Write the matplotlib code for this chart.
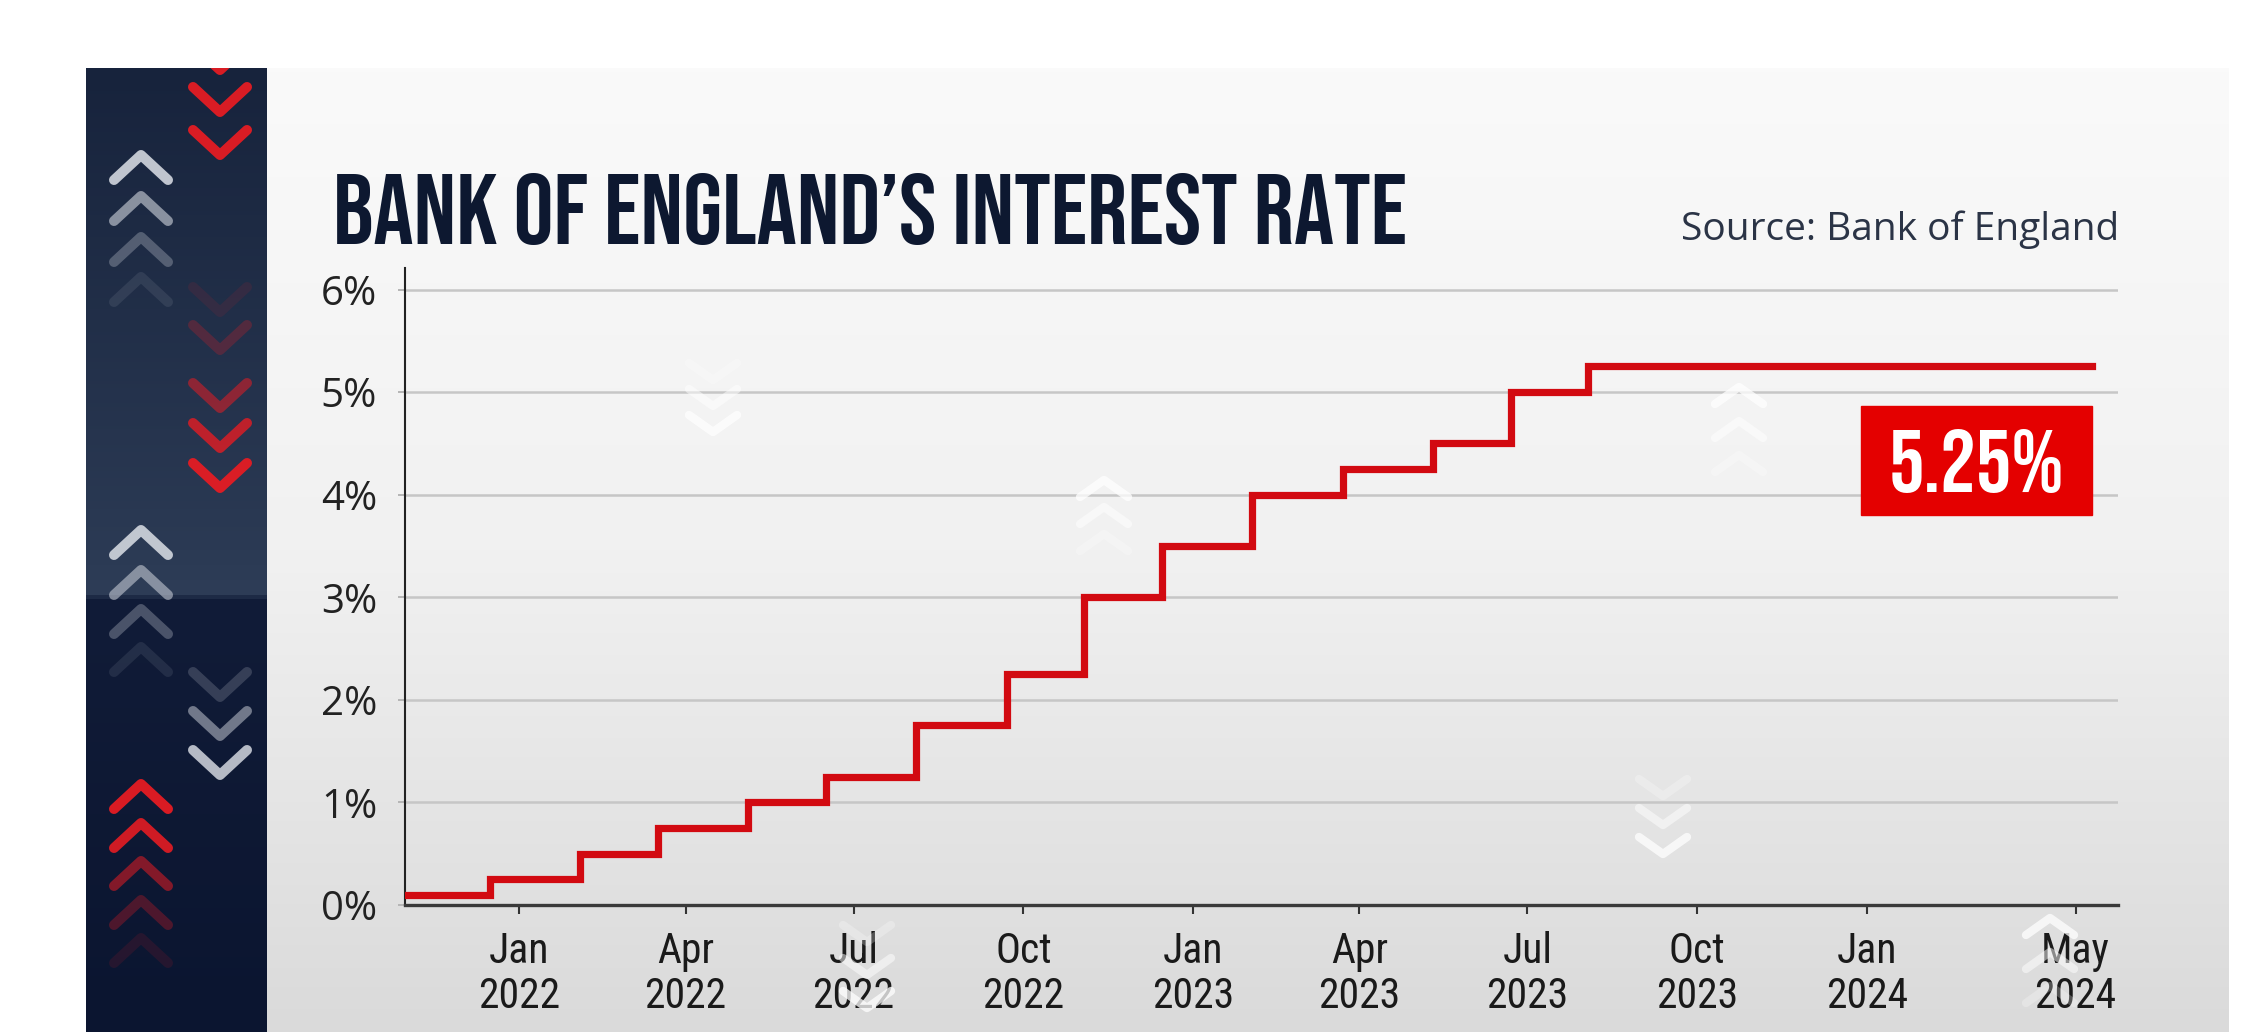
import numpy as np
import pandas as pd
import matplotlib
matplotlib.use("Agg")
import matplotlib.pyplot as plt
import matplotlib.dates as mdates
from matplotlib.colors import LinearSegmentedColormap
from matplotlib.patches import Rectangle

# Bank Rate decisions (rate in force from each date)
rate_dates = ["2021-10-31", "2021-12-16", "2022-02-03", "2022-03-17", "2022-05-05",
              "2022-06-16", "2022-08-04", "2022-09-22", "2022-11-03", "2022-12-15",
              "2023-02-02", "2023-03-23", "2023-05-11", "2023-06-22", "2023-08-03",
              "2024-05-02"]
rates = [0.1, 0.25, 0.5, 0.75, 1.0, 1.25, 1.75, 2.25, 3.0, 3.5,
         4.0, 4.25, 4.5, 5.0, 5.25, 5.25]

# tick positions as drawn on the original (the last one sits a little before May 1)
tick_dates = ["2022-01-01", "2022-04-01", "2022-07-01", "2022-10-01", "2023-01-01",
              "2023-04-01", "2023-07-01", "2023-10-01", "2024-01-01", "2024-04-23"]
tick_labels = ["Jan\n2022", "Apr\n2022", "Jul\n2022", "Oct\n2022", "Jan\n2023",
               "Apr\n2023", "Jul\n2023", "Oct\n2023", "Jan\n2024", "May\n2024"]
y_ticks = [0, 1, 2, 3, 4, 5, 6]

title = "BANK OF ENGLAND\u2019S INTEREST RATE"
source = "Source: Bank of England"

W, H = 2248, 1032
NAVY = "#0d1830"
RED = "#d20a11"
BOX_RED = "#e40000"

condensed_bold = ["Bebas Neue", "Oswald", "Fira Sans Extra Condensed"]
condensed = ["Roboto Condensed", "Fira Sans Extra Condensed", "DejaVu Sans"]
plain = ["Open Sans", "DejaVu Sans"]

fig = plt.figure(figsize=(W / 100, H / 100), dpi=100)
fig.patch.set_facecolor("white")

# background layer in pixel coordinates
bg = fig.add_axes([0, 0, 1, 1])
bg.set_xlim(0, W)
bg.set_ylim(H, 0)
bg.axis("off")

grad = np.linspace(0, 1, 256)[:, None]
card_cmap = LinearSegmentedColormap.from_list("card", ["#fafafa", "#f1f1f1", "#dadada"])
bg.imshow(grad, extent=(267, 2229, H, 68), cmap=card_cmap, aspect="auto")
panel_cmap = LinearSegmentedColormap.from_list(
    "panel", [(0, "#17233c"), (0.5, "#2b3a54"), (0.545, "#2e3d57"),
              (0.552, "#111c38"), (1, "#0b1530")])
bg.imshow(grad, extent=(86, 267, H, 68), cmap=panel_cmap, aspect="auto")
panel_clip = Rectangle((86, 68), 181, H - 68, transform=bg.transData, visible=False)
bg.add_patch(panel_clip)


def chevron(axis, x, y, up, color, alpha, hw=27, h=25, lw=7.2, clip=None):
    dy = h if up else -h
    line, = axis.plot([x - hw, x, x + hw], [y + dy, y, y + dy], color=color, alpha=alpha,
                      lw=lw, solid_capstyle="round", solid_joinstyle="round")
    if clip is not None:
        line.set_clip_path(clip)


# decorative arrows on the left panel
WHITE = "#d3d7df"
PRED = "#e51c23"
for y, a in zip([155, 196, 237, 277], [0.9, 0.6, 0.3, 0.1]):
    chevron(bg, 141, y, True, WHITE, a)
for y, a in zip([530, 570, 609, 647], [0.9, 0.55, 0.3, 0.1]):
    chevron(bg, 141, y, True, WHITE, a)
for y, a in zip([784, 823, 861, 900, 938], [0.95, 0.9, 0.55, 0.3, 0.12]):
    chevron(bg, 141, y, True, PRED, a)
for y, a in zip([70, 112, 155], [0.95, 0.95, 0.95]):
    chevron(bg, 220, y, False, PRED, a, clip=panel_clip)
for y, a in zip([312, 350, 408, 448, 488], [0.1, 0.25, 0.55, 0.8, 0.95]):
    chevron(bg, 220, y, False, PRED, a)
for y, a in zip([697, 736, 775], [0.2, 0.5, 0.85]):
    chevron(bg, 220, y, False, WHITE, a)

bg.text(333, 244, title, ha="left", va="baseline", fontsize=72,
        family=condensed_bold, color=NAVY)
bg.text(2119, 240, source, ha="right", va="baseline", fontsize=28,
        family=plain, color="#2b3446")

# main chart
x0, x1, y_top, y0 = 405, 2118, 268, 905
ax = fig.add_axes([x0 / W, (H - y0) / H, (x1 - x0) / W, (y0 - y_top) / H])
ax.patch.set_alpha(0)

dates = pd.to_datetime(rate_dates)
ax.step(dates, rates, where="post", color=RED, lw=5.2, solid_joinstyle="miter",
        zorder=3)

ax.set_xlim(pd.Timestamp("2021-10-31"), pd.Timestamp("2024-05-16"))
ax.set_ylim(0, 6.21)

ax.set_yticks(y_ticks)
ax.set_yticklabels([f"{v}%" for v in y_ticks], family=plain)
ax.set_xticks(pd.to_datetime(tick_dates))
ax.set_xticklabels(tick_labels, family=condensed, linespacing=1.15)

ax.yaxis.grid(True, color="#c6c6c6", lw=1.8)
ax.set_axisbelow(True)
ax.tick_params(axis="y", length=5, width=1.4, color="#b5b5b5", pad=15,
               labelsize=29, labelcolor="#222222")
ax.tick_params(axis="x", length=6.5, width=1.5, color="#333333", pad=12,
               labelsize=30, labelcolor="#1a1a1a")
for s in ["top", "right"]:
    ax.spines[s].set_visible(False)
ax.spines["left"].set_color("#222222")
ax.spines["left"].set_linewidth(1.5)
ax.spines["bottom"].set_color("#3a3a3a")
ax.spines["bottom"].set_linewidth(2.4)

# latest-rate label box, right-aligned with the end of the line
last_date = mdates.date2num(dates[-1])
box_w = 125
ax.add_patch(Rectangle((last_date - box_w, rates[-1] - 1.45), box_w, 1.06,
                       color=BOX_RED, zorder=4))
ax.text(last_date - box_w / 2, rates[-1] - 0.92, f"{rates[-1]:.2f}%",
        ha="center", va="center", fontsize=64, family=condensed_bold,
        color="white", zorder=5)

# faint overlay arrows drifting across the card
fg = fig.add_axes([0, 0, 1, 1], zorder=10)
fg.set_xlim(0, W)
fg.set_ylim(H, 0)
fg.axis("off")
for cx, ys, up in [(713, [380, 406, 432], False), (1104, [480, 507, 534], True),
                   (1739, [387, 421, 455], True), (1663, [796, 825, 854], False),
                   (867, [942, 975, 1008], False), (2050, [918, 952, 986], True)]:
    for y, a in zip(ys, [0.75, 0.5, 0.25] if up else [0.25, 0.5, 0.75]):
        chevron(fg, cx, y, up, "white", a, hw=24, h=17, lw=6)

fig.savefig("out.png", dpi=100)
